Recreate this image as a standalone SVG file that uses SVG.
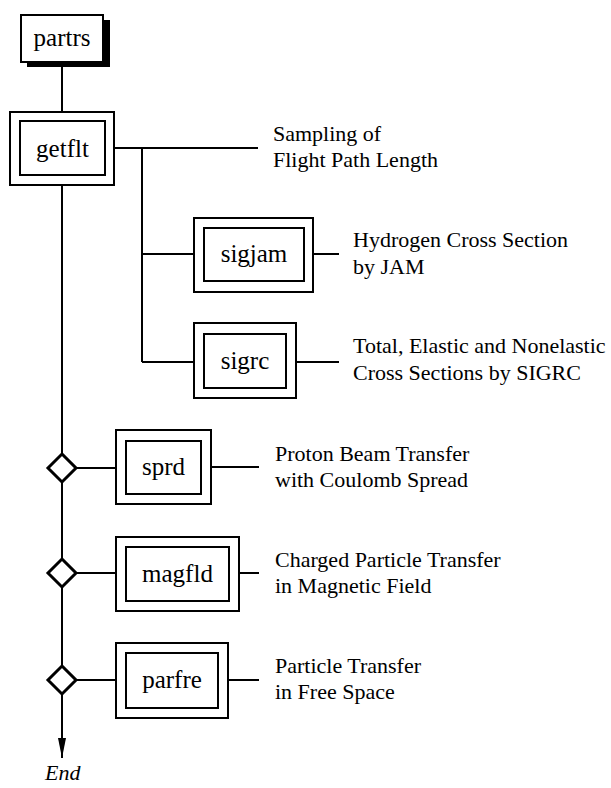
<svg xmlns="http://www.w3.org/2000/svg" width="611" height="788" viewBox="0 0 611 788">
<style>
.bx{fill:#fff;stroke:#000;stroke-width:2}
.nt{font-family:"Liberation Serif","Times New Roman",serif;font-size:25px;text-anchor:middle;fill:#000}
.dt{font-family:"Liberation Serif","Times New Roman",serif;font-size:22px;fill:#000}
.ln{stroke:#000;stroke-width:2;fill:none}
.dm{fill:#fff;stroke:#000;stroke-width:3}
</style>
<defs>
<marker id="arr" viewBox="0 0 20 8" refX="20" refY="4" markerWidth="20" markerHeight="8" orient="auto" markerUnits="userSpaceOnUse">
<path d="M0,0 L20,4 L0,8 z" fill="#000"/>
</marker>
</defs>
<g id="connectors">
<line class="ln" x1="62" y1="62" x2="62" y2="112"/>
<line class="ln" x1="62" y1="185" x2="62" y2="454"/>
<line class="ln" x1="62" y1="482" x2="62" y2="559"/>
<line class="ln" x1="62" y1="587" x2="62" y2="666"/>
<line class="ln" x1="62" y1="694" x2="62" y2="758" marker-end="url(#arr)"/>
<line class="ln" x1="114" y1="148" x2="258" y2="148"/>
<line class="ln" x1="142" y1="148" x2="142" y2="362"/>
<line class="ln" x1="142" y1="254" x2="194" y2="254"/>
<line class="ln" x1="142" y1="362" x2="194" y2="362"/>
<line class="ln" x1="313" y1="254" x2="339" y2="254" stroke-width="3"/>
<line class="ln" x1="296" y1="362" x2="339" y2="362"/>
<line class="ln" x1="75" y1="468" x2="116" y2="468"/>
<line class="ln" x1="75" y1="573" x2="116" y2="573"/>
<line class="ln" x1="75" y1="680" x2="116" y2="680"/>
<line class="ln" x1="211" y1="467" x2="259" y2="467"/>
<line class="ln" x1="239" y1="573" x2="259" y2="573"/>
<line class="ln" x1="228" y1="680" x2="259" y2="680"/>
<polygon class="dm" points="62,454 76,468 62,482 48,468"/>
<polygon class="dm" points="62,559 76,573 62,587 48,573"/>
<polygon class="dm" points="62,666 76,680 62,694 48,680"/>
</g>
<g id="partrs">
<rect x="27" y="20" width="83" height="47" fill="#000"/>
<rect class="bx" x="21" y="15" width="82" height="47"/>
<text class="nt" x="62" y="46">partrs</text>
</g>
<g id="getflt">
<rect class="bx" x="10" y="112" width="104" height="73"/>
<rect class="bx" x="20" y="121" width="85" height="54"/>
<text class="nt" x="62.5" y="157">getflt</text>
</g>
<g id="sigjam">
<rect class="bx" x="194" y="218" width="119" height="74"/>
<rect class="bx" x="204" y="228" width="100" height="53"/>
<text class="nt" x="254" y="262">sigjam</text>
</g>
<g id="sigrc">
<rect class="bx" x="194" y="323" width="102" height="75"/>
<rect class="bx" x="204" y="334" width="82" height="54"/>
<text class="nt" x="245" y="369">sigrc</text>
</g>
<g id="sprd">
<rect class="bx" x="116" y="430" width="95" height="74"/>
<rect class="bx" x="126" y="441" width="75" height="53"/>
<text class="nt" x="163.5" y="475">sprd</text>
</g>
<g id="magfld">
<rect class="bx" x="116" y="537" width="123" height="74"/>
<rect class="bx" x="126" y="547" width="103" height="54"/>
<text class="nt" x="177.5" y="582">magfld</text>
</g>
<g id="parfre">
<rect class="bx" x="116" y="643" width="112" height="75"/>
<rect class="bx" x="126" y="653" width="92" height="55"/>
<text class="nt" x="172" y="688">parfre</text>
</g>
<g id="labels">
<text class="dt" x="273" y="141">Sampling of</text>
<text class="dt" x="273" y="167">Flight Path Length</text>
<text class="dt" x="353" y="247">Hydrogen Cross Section</text>
<text class="dt" x="353" y="274">by JAM</text>
<text class="dt" x="353" y="353">Total, Elastic and Nonelastic</text>
<text class="dt" x="353" y="380">Cross Sections by SIGRC</text>
<text class="dt" x="275" y="461">Proton Beam Transfer</text>
<text class="dt" x="275" y="487">with Coulomb Spread</text>
<text class="dt" x="275" y="567">Charged Particle Transfer</text>
<text class="dt" x="275" y="593">in Magnetic Field</text>
<text class="dt" x="275" y="673">Particle Transfer</text>
<text class="dt" x="275" y="699">in Free Space</text>
<text class="dt" x="45" y="780" font-style="italic" font-size="23">End</text>
</g>
</svg>
